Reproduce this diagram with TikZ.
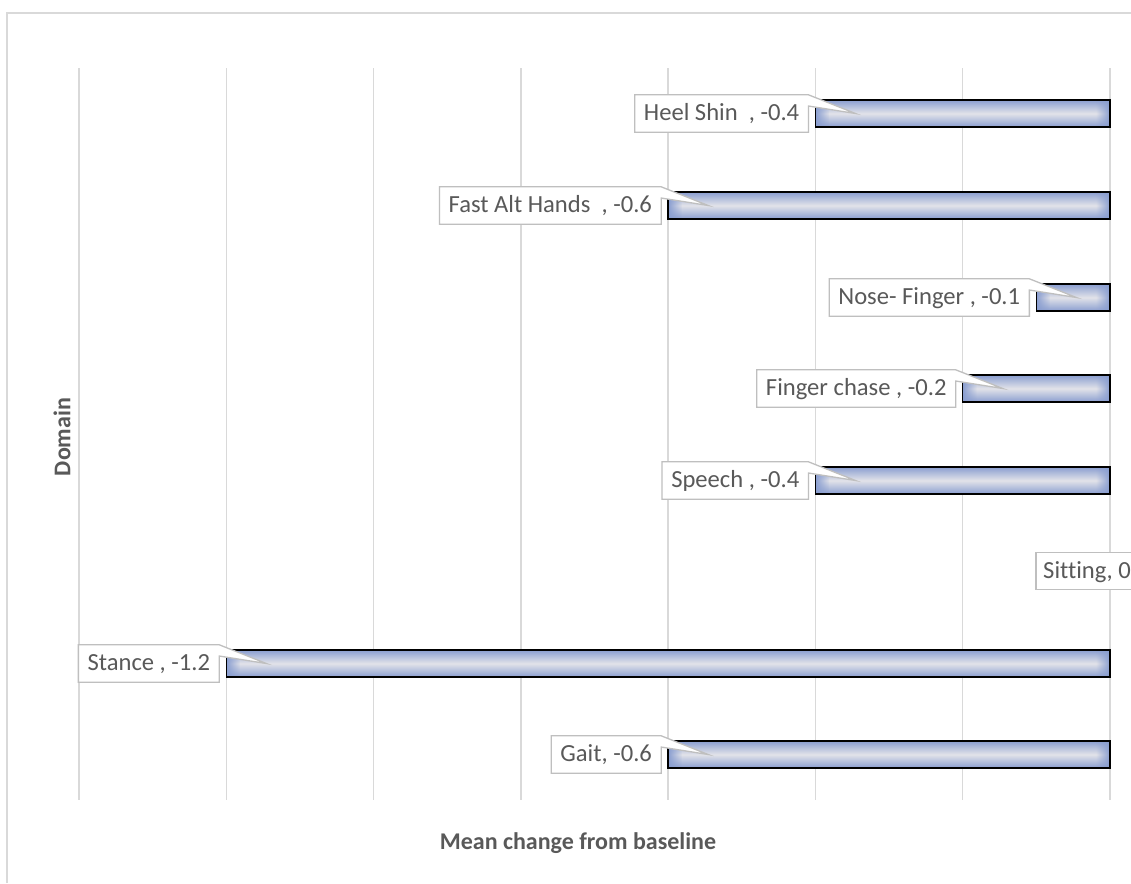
\documentclass[tikz,border=0pt]{standalone}
\usepackage{fontspec}
\setmainfont{Carlito}[Ligatures={NoCommon}]
\usetikzlibrary{fadings,calc}
\definecolor{gridc}{RGB}{217,217,217}
\definecolor{txtc}{RGB}{89,89,89}
\definecolor{boxc}{RGB}{191,191,191}
\definecolor{barb}{RGB}{138,158,208}
\definecolor{barm}{RGB}{226,227,233}
\pgfdeclarelayer{bg}
\pgfdeclarelayer{mid}
\pgfsetlayers{bg,mid,main}
\tikzfading[name=fadeR, left color=transparent!0, right color=transparent!100]
\tikzfading[name=fadeL, left color=transparent!100, right color=transparent!0]
\tikzset{
  gridline/.style={draw=gridc, line width=1.4pt},
  barbox/.style={draw=black, line width=1.5pt, inner sep=0pt, outer sep=0pt,
    minimum height=27pt, anchor=east, top color=barb, bottom color=barb, middle color=barm},
  lab/.style={inner xsep=9pt, inner ysep=0pt, minimum height=37pt, text height=18pt, text depth=3.5pt,
    font=\fontsize{24.6}{29}\selectfont, text=txtc},
  callbox/.style={draw=boxc, fill=white, line width=1.3pt, line join=miter},
  axtitle/.style={font=\fontsize{24}{29}\selectfont\bfseries, text=txtc}
}
\newcommand\domainbar[4]{%
  \pgfmathsetmacro\barw{-#2*736.4}
  \begin{pgfonlayer}{bg}
    \node[barbox, minimum width=\barw pt] (#1bar) at (1110,#3) {};
    \fill[barb, path fading=fadeR] (#1bar.north west) rectangle ([xshift=14pt]#1bar.south west);
    \fill[barb, path fading=fadeL] ([xshift=-14pt]#1bar.north east) rectangle (#1bar.south east);
    \draw[black, line width=1.5pt] (#1bar.north west) rectangle (#1bar.south east);
  \end{pgfonlayer}
  \coordinate (#1tip) at ([xshift=40pt]#1bar.west);
  \node[lab, anchor=east] (#1) at ([xshift=-7pt]#1bar.west) {#4};
  \begin{pgfonlayer}{mid}
    \draw[callbox] (#1.north west) -- (#1.north east) -- (#1tip)
      -- ($(#1.north east)!0.3!(#1.south east)$) -- (#1.south east) -- (#1.south west) -- cycle;
  \end{pgfonlayer}
}
\begin{document}
\begin{tikzpicture}[x=1pt,y=-1pt]
\useasboundingbox (0,0) rectangle (1131,883);
\clip (0,0) rectangle (1131,883);
\begin{pgfonlayer}{bg}
  \fill[white] (0,0) rectangle (1131,883);
  \draw[gridc, line width=1.5pt] (7,883) -- (7,13) -- (1131,13);
  \foreach \k in {0,...,7} {
    \draw[gridline] ({79+\k*147.286},68) -- ({79+\k*147.286},800);
  }
\end{pgfonlayer}
\domainbar{heel}{-0.4}{113.5}{Heel Shin~~, -0.4}
\domainbar{fast}{-0.6}{205.5}{Fast Alt Hands~~, -0.6}
\domainbar{nose}{-0.1}{297.5}{Nose- Finger , -0.1}
\domainbar{finger}{-0.2}{388.5}{Finger chase , -0.2}
\domainbar{speech}{-0.4}{480.5}{Speech , -0.4}
\domainbar{stance}{-1.2}{663.5}{Stance , -1.2}
\domainbar{gait}{-0.6}{754.5}{Gait, -0.6}
\node[lab, anchor=west, inner xsep=7pt] (sitting) at (1036,571) {Sitting, 0};
\begin{pgfonlayer}{mid}
  \draw[callbox] (sitting.north west) rectangle (sitting.south east);
\end{pgfonlayer}
\node[axtitle] (xtitle) at (578,843) {Mean change from baseline};
\node[axtitle, rotate=90] (ytitle) at (62,437) {Domain};
\end{tikzpicture}
\end{document}
